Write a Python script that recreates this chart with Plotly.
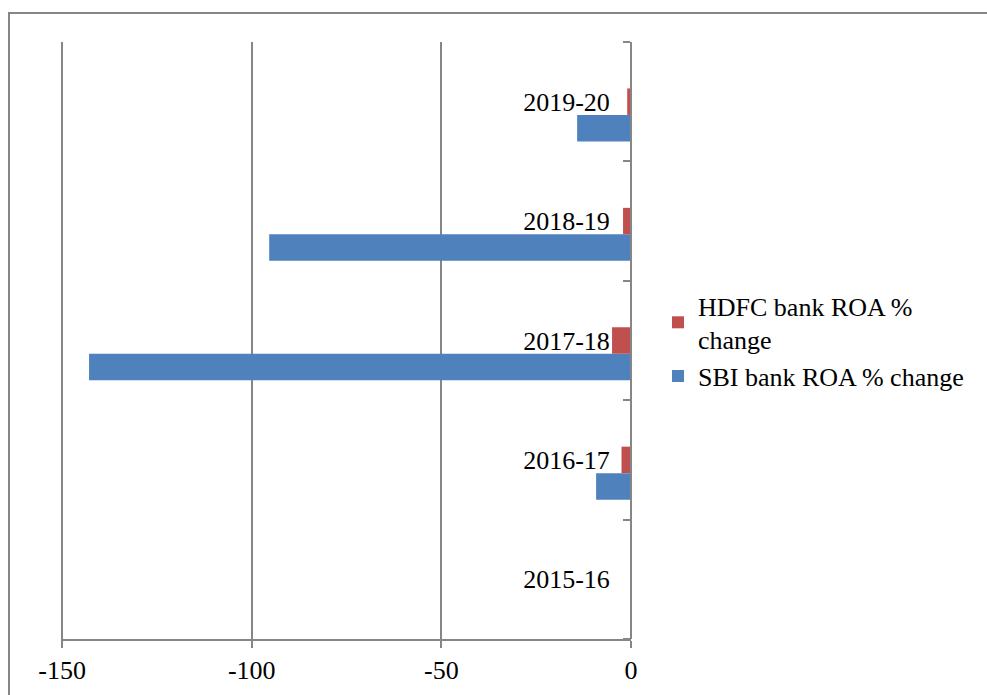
import plotly.graph_objects as go

categories = ["2015-16", "2016-17", "2017-18", "2018-19", "2019-20"]
sbi_roa_change = [0, -9.2, -142.9, -95.4, -14.2]
hdfc_roa_change = [0, -2.5, -5.0, -2.1, -1.0]
x_tick_values = [-150, -100, -50, 0]
x_tick_labels = ["-150", "-100", "-50", "0"]

W, H = 987, 695
L, R, T, B = 61, 631, 42, 639
X_MIN = -150.3

FONT = "Liberation Serif, Times New Roman, serif"
GRID = "#868686"

def px_x(px):
    return (px - L) / (R - L)

def px_y(py):
    return (B - py) / (B - T)

fig = go.Figure()
fig.add_trace(go.Bar(
    y=categories, x=sbi_roa_change, orientation="h",
    name="SBI bank ROA % change",
    marker=dict(color="#4F81BD", line=dict(width=0)),
    width=0.222, offset=-0.333,
))
fig.add_trace(go.Bar(
    y=categories, x=hdfc_roa_change, orientation="h",
    name="HDFC bank ROA %<br>change",
    marker=dict(color="#C0504D", line=dict(width=0)),
    width=0.222, offset=-0.111,
))

fig.update_layout(
    width=W, height=H,
    margin=dict(l=L, r=W - R, t=T, b=H - B, pad=0, autoexpand=False),
    paper_bgcolor="white", plot_bgcolor="white",
    font=dict(family=FONT, size=26, color="black"),
    barmode="overlay",
    showlegend=True,
    legend=dict(
        x=px_x(658), y=px_y(341), xanchor="left", yanchor="middle",
        traceorder="reversed",
        font=dict(family=FONT, size=26, color="black"),
        bgcolor="rgba(0,0,0,0)", itemwidth=30,
        tracegroupgap=4,
    ),
    xaxis=dict(
        range=[X_MIN, 0], tickvals=x_tick_values, ticktext=x_tick_labels,
        domain=[0, 1],
        showgrid=True, gridcolor=GRID, gridwidth=1.5,
        zeroline=False,
        showline=True, linecolor=GRID, linewidth=2,
        ticks="outside", ticklen=7, tickcolor=GRID, tickwidth=1.5,
        tickfont=dict(family=FONT, size=26, color="black"),
        automargin=False,
    ),
    yaxis=dict(
        type="category", categoryorder="array", categoryarray=categories,
        range=[-0.5, 4.5],
        anchor="free", position=1.0, side="left",
        showgrid=False, zeroline=False,
        showline=True, linecolor=GRID, linewidth=2,
        ticks="outside", ticklen=7, tickcolor=GRID, tickwidth=1.5,
        tickson="boundaries",
        ticklabelstandoff=15,
        tickfont=dict(family=FONT, size=26, color="black"),
        automargin=False,
    ),
    shapes=[dict(
        type="rect", xref="paper", yref="paper",
        x0=px_x(9), x1=px_x(1100), y0=px_y(800), y1=px_y(13),
        line=dict(color=GRID, width=2), fillcolor="rgba(0,0,0,0)", layer="below",
    )],
)

fig.write_html("out.html")
